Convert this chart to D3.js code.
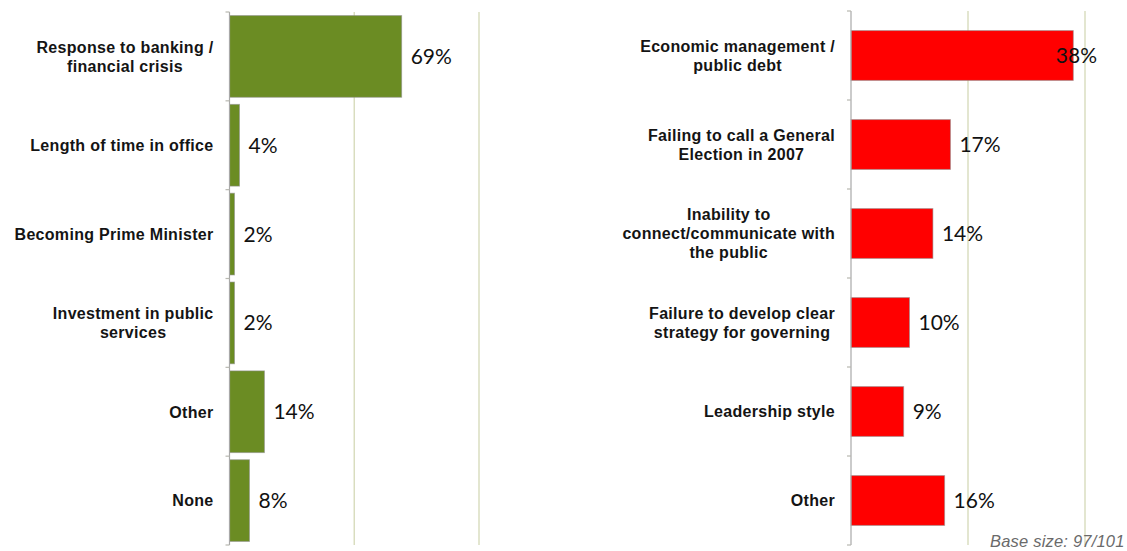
<!DOCTYPE html>
<html>
<head>
<meta charset="utf-8">
<script src="https://cdn.jsdelivr.net/npm/d3@7"></script>
<style>
  html, body { margin: 0; padding: 0; background: #fff; }
  svg { display: block; }
</style>
</head>
<body>
<svg id="chart" width="1127" height="551"></svg>
<script>
// Strengths (left) and weaknesses (right), share of respondents in %
const strengthCategories = [
  "Response to banking /\nfinancial crisis",
  "Length of time in office",
  "Becoming Prime Minister",
  "Investment in public\nservices",
  "Other",
  "None"
];
const strengthValues = [69, 4, 2, 2, 14, 8];
const strengthTicks = [0, 50, 100];

const weaknessCategories = [
  "Economic management /\npublic debt",
  "Failing to call a General\nElection in 2007",
  "Inability to\nconnect/communicate with\nthe public",
  "Failure to develop clear\nstrategy for governing",
  "Leadership style",
  "Other"
];
const weaknessValues = [38, 17, 14, 10, 9, 16];
const weaknessTicks = [0, 20, 40];

const footnote = "Base size: 97/101";

const svg = d3.select("#chart");

const LABEL_FONT = "'Liberation Sans', Arial, sans-serif";
const VALUE_FONT = "Lato, 'Open Sans', sans-serif";

function drawPanel(opts) {
  const { categories, values, ticks, x0, x1, y0, y1, color, pad, limitRight } = opts;
  const g = svg.append("g");

  const x = d3.scaleLinear().domain([ticks[0], ticks[ticks.length - 1]]).range([x0, x1]);
  const y = d3.scaleBand().domain(categories).range([y0, y1])
    .paddingInner(pad).paddingOuter(pad / 2);

  // vertical gridlines
  g.append("g").selectAll("line")
    .data(ticks.filter(t => t > ticks[0]))
    .join("line")
    .attr("x1", d => x(d)).attr("x2", d => x(d))
    .attr("y1", y0).attr("y2", y1)
    .attr("stroke", "#d7dcbc").attr("stroke-width", 1.4);

  // bars
  g.append("g").selectAll("rect")
    .data(values)
    .join("rect")
    .attr("x", x(0))
    .attr("y", (d, i) => y(categories[i]))
    .attr("width", d => x(d) - x(0))
    .attr("height", y.bandwidth())
    .attr("fill", color)
    .attr("stroke", "rgba(140,140,140,0.55)")
    .attr("stroke-width", 1);

  // category axis with ticks at band boundaries
  const ax = g.append("g");
  ax.append("line")
    .attr("x1", x(0)).attr("x2", x(0))
    .attr("y1", y0).attr("y2", y1)
    .attr("stroke", "#a8a8a8").attr("stroke-width", 1.2);
  const bounds = d3.range(categories.length + 1).map(i => y0 + i * (y1 - y0) / categories.length);
  ax.selectAll("line.tick")
    .data(bounds)
    .join("line")
    .attr("class", "tick")
    .attr("x1", x(0) - 4).attr("x2", x(0))
    .attr("y1", d => d).attr("y2", d => d)
    .attr("stroke", "#b8b8b0").attr("stroke-width", 1.2);

  // category labels: centred multi-line blocks, right-aligned to the axis
  const lineH = 19;
  const labelRight = x(0) - 16;
  categories.forEach((c) => {
    const lines = c.split("\n");
    const cy = y(c) + y.bandwidth() / 2;
    const t = g.append("text")
      .attr("font-family", LABEL_FONT)
      .attr("font-weight", "bold")
      .attr("font-size", 16)
      .attr("letter-spacing", 0.3)
      .attr("fill", "#141414")
      .attr("text-anchor", "middle");
    lines.forEach((ln, j) => {
      t.append("tspan")
        .attr("x", 0)
        .attr("y", cy - (lines.length - 1) * lineH / 2 + j * lineH + 5.8)
        .text(ln);
    });
    const w = d3.max(t.selectAll("tspan").nodes(), n => n.getComputedTextLength());
    t.selectAll("tspan").attr("x", labelRight - w / 2);
  });

  // value labels beside bars, kept inside the plot area
  values.forEach((v, i) => {
    const t = g.append("text")
      .attr("font-family", VALUE_FONT)
      .attr("font-size", 21)
      .attr("fill", "#111")
      .attr("y", y(categories[i]) + y.bandwidth() / 2 + 7.5)
      .text(v + "%");
    const w = t.node().getComputedTextLength();
    t.attr("x", Math.min(x(v) + 9, limitRight - w));
  });
}

drawPanel({
  categories: strengthCategories, values: strengthValues, ticks: strengthTicks,
  x0: 229.5, x1: 479, y0: 12, y1: 545, color: "#6b8c23", pad: 0.08, limitRight: 600
});

drawPanel({
  categories: weaknessCategories, values: weaknessValues, ticks: weaknessTicks,
  x0: 851, x1: 1085, y0: 11, y1: 545, color: "#ff0000", pad: 0.44, limitRight: 1097
});

svg.append("text")
  .attr("x", 990).attr("y", 547)
  .attr("font-family", LABEL_FONT)
  .attr("font-style", "italic")
  .attr("font-size", 16.5)
  .attr("letter-spacing", 0.2)
  .attr("fill", "#6a6a6a")
  .text(footnote);
</script>
</body>
</html>
